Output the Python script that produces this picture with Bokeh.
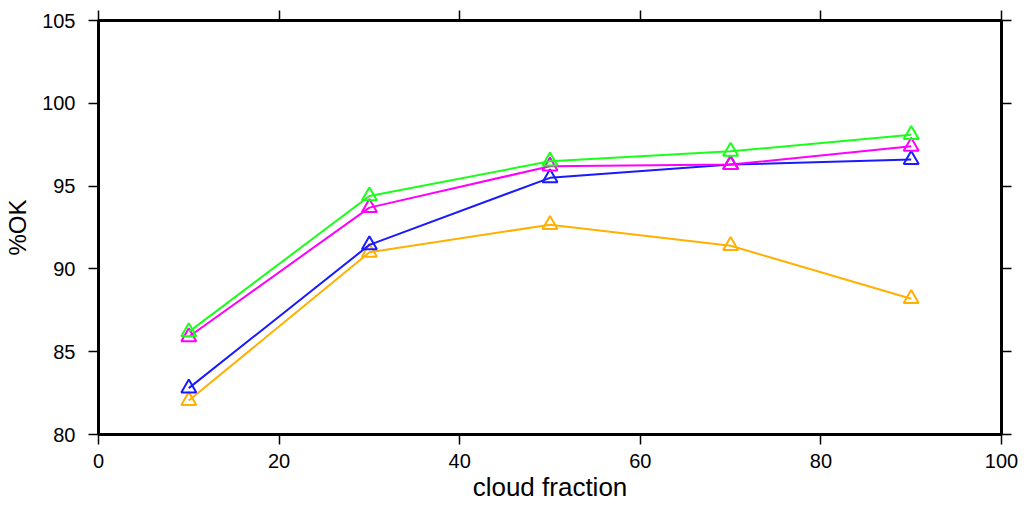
from bokeh.plotting import figure
from bokeh.models import LinearAxis, FixedTicker, Range1d
from bokeh.embed import file_html
from bokeh.resources import INLINE

# cloud fraction bins (%)
cloud_fraction = [10, 30, 50, 70, 90]

# percentage of OK retrievals per series
pct_green = [86.2, 94.4, 96.5, 97.1, 98.1]
pct_magenta = [85.9, 93.7, 96.2, 96.3, 97.4]
pct_blue = [82.8, 91.45, 95.5, 96.3, 96.6]
pct_orange = [82.05, 91.0, 92.67, 91.4, 88.2]

x_ticks = [0, 20, 40, 60, 80, 100]
y_ticks = [80, 85, 90, 95, 100, 105]

FONT = "Liberation Sans"

p = figure(
    width=1028, height=505,
    x_range=Range1d(0, 100), y_range=Range1d(80, 105),
    output_backend="svg", toolbar_location=None,
    min_border_left=98, min_border_right=27,
    min_border_top=20, min_border_bottom=71,
)
p.background_fill_color = "white"
p.border_fill_color = "white"
p.outline_line_color = "black"
p.outline_line_width = 3
p.xgrid.visible = False
p.ygrid.visible = False


def style_axis(ax, ticks, show_labels=True):
    ax.ticker = FixedTicker(ticks=ticks)
    ax.axis_line_color = "black"
    ax.axis_line_width = 3
    ax.major_tick_line_color = "black"
    ax.major_tick_line_width = 1.5
    ax.major_tick_out = 10
    ax.major_tick_in = 0
    ax.minor_tick_line_color = None
    ax.major_label_text_font = FONT
    ax.major_label_text_color = "black"
    if show_labels:
        ax.major_label_text_font_size = "20px"
        ax.major_label_standoff = 9
    else:
        # mirrored axis: ticks only
        ax.major_label_overrides = {t: "" for t in ticks}
        ax.major_label_text_font_size = "1px"
        ax.major_label_standoff = 0


style_axis(p.xaxis[0], x_ticks)
style_axis(p.yaxis[0], y_ticks)
p.yaxis[0].major_label_standoff = 13
p.xaxis.axis_label = "cloud fraction"
p.yaxis.axis_label = "%OK"
for ax in (p.xaxis[0], p.yaxis[0]):
    ax.axis_label_text_font = FONT
    ax.axis_label_text_font_style = "normal"
    ax.axis_label_text_color = "black"
p.xaxis.axis_label_text_font_size = "26px"
p.xaxis.axis_label_standoff = 1
p.yaxis.axis_label_text_font_size = "24px"
p.yaxis.axis_label_standoff = 8

top_axis = LinearAxis()
style_axis(top_axis, x_ticks, show_labels=False)
p.add_layout(top_axis, "above")

right_axis = LinearAxis()
style_axis(right_axis, y_ticks, show_labels=False)
p.add_layout(right_axis, "right")

series = [
    (pct_orange, "#ffb000"),
    (pct_blue, "#1a1aff"),
    (pct_magenta, "#ff00ff"),
    (pct_green, "#1aff1a"),
]
for values, color in series:
    p.line(cloud_fraction, values, line_color=color, line_width=2)
    p.scatter(cloud_fraction, values, marker="triangle", size=15,
              line_color=color, line_width=2, fill_color=None)

open("out.html", "w").write(file_html(p, INLINE))
